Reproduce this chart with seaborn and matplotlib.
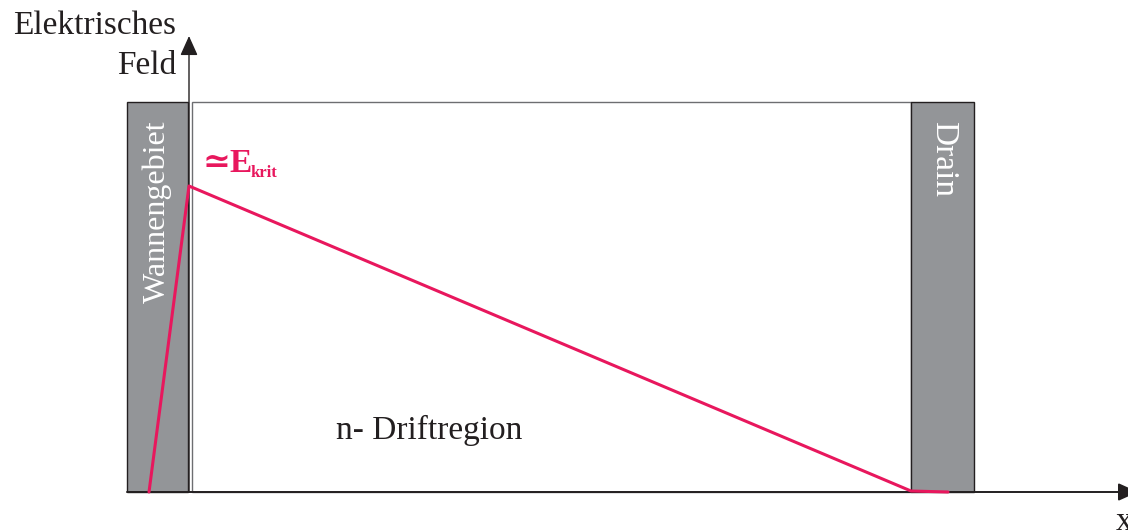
"""
Elektrisches Feld in der Driftregion (Skizze)
"""

import matplotlib
matplotlib.use("Agg")
import matplotlib.pyplot as plt
import matplotlib.patches as patches
import seaborn as sns
import pandas as pd

sns.set_theme(style="white")
plt.rcParams["font.family"] = ["Liberation Serif", "DejaVu Serif"]

# Bereiche (x-Grenzen, Höhe)
bereiche = ["Wannengebiet", "n- Driftregion", "Drain"]
bereich_start = [127, 192, 911]
bereich_ende = [188, 911, 974]
bereich_hoehe = 390

# Feldverlauf
x_feld = [149, 189, 911, 948]
e_feld = [0, 306, 1, 0]

rosa = "#e8175d"
grau = "#939598"
schwarz = "#231f20"

fig = plt.figure(figsize=(11.28, 5.31), dpi=100)
ax = fig.add_axes([0, 0, 1, 1])

# Kästen
for name, x0, x1 in zip(bereiche, bereich_start, bereich_ende):
    farbe = "white" if name == "n- Driftregion" else grau
    rand = "#6d6e71" if name == "n- Driftregion" else schwarz
    ax.add_patch(patches.Rectangle((x0, 0), x1 - x0, bereich_hoehe,
                                   facecolor=farbe, edgecolor=rand, lw=1.0, zorder=1))

# Feldlinie
df = pd.DataFrame({"x": x_feld, "E": e_feld})
sns.lineplot(data=df, x="x", y="E", sort=False, color=rosa, lw=2.2, ax=ax, zorder=4)
ax.axis("off")
ax.set_xlim(0, 1128)
ax.set_ylim(-39, 492)

# Achsen mit Pfeilen
pfeil = "-|>,head_length=1.0,head_width=0.45"
ax.annotate("", xy=(189, 456), xytext=(189, 0), annotation_clip=False,
            arrowprops=dict(arrowstyle=pfeil, color=schwarz, lw=1.0,
                            shrinkA=0, shrinkB=0), zorder=3)
ax.annotate("", xy=(1138, 0), xytext=(127, 0), annotation_clip=False,
            arrowprops=dict(arrowstyle=pfeil, color=schwarz, lw=1.4,
                            shrinkA=0, shrinkB=0), zorder=3)

# Beschriftungen
ax.text(176, 492 - 34, "Elektrisches", ha="right", va="baseline",
        fontsize=24, color=schwarz)
ax.text(176, 492 - 74, "Feld", ha="right", va="baseline",
        fontsize=24, color=schwarz)
ax.text(157, 492 - 212, "Wannengebiet", rotation=90, ha="center", va="center",
        fontsize=23, color="white")
ax.text(943, 492 - 159, "Drain", rotation=-90, ha="center", va="center",
        fontsize=24, color="white")
ax.text(336, 492 - 439, "n- Driftregion", ha="left", va="baseline",
        fontsize=24, color=schwarz)

# ≃E_krit
t1 = ax.text(203, 492 - 172, "\u2243E", ha="left", va="baseline",
             fontsize=24, color=rosa, fontweight="bold",
             family=["Liberation Serif", "DejaVu Serif"])
fig.canvas.draw()
bb = t1.get_window_extent().transformed(ax.transData.inverted())
ax.text(bb.x1 - 3, 492 - 177, "krit", ha="left", va="baseline",
        fontsize=12, color=rosa, fontweight="bold")

ax.text(1116, 492 - 530, "x", ha="left", va="baseline", fontsize=24, color=schwarz)

fig.savefig("out.png", dpi=100)
